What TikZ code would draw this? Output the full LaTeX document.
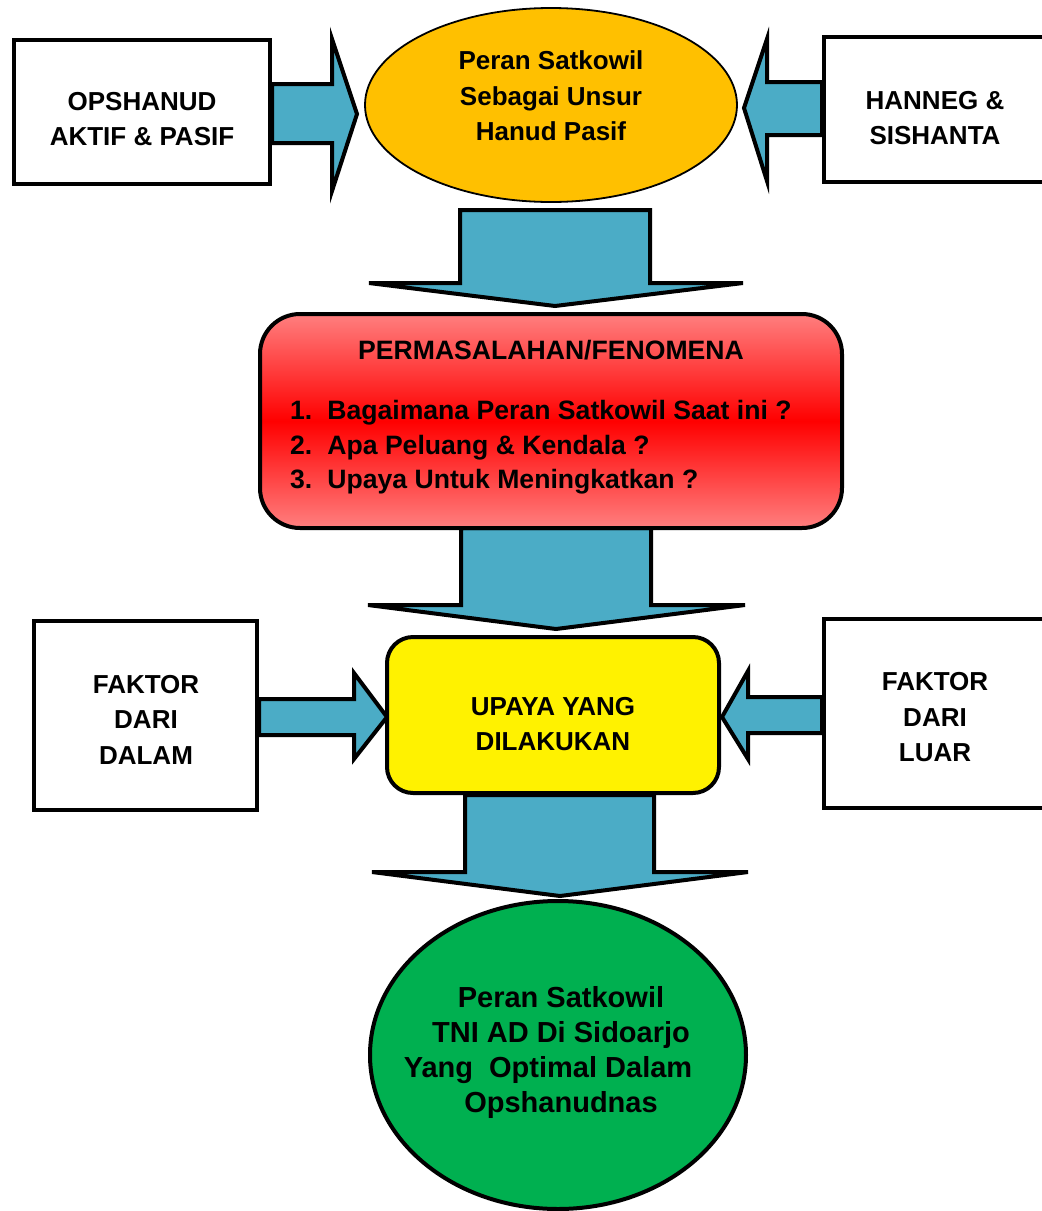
\documentclass[tikz,border=0pt]{standalone}
\usepackage{fontspec}
\setmainfont{Liberation Sans}
\usetikzlibrary{shapes.geometric}
\definecolor{arrowteal}{HTML}{4BACC6}
\definecolor{ellorange}{HTML}{FFC000}
\definecolor{ellgreen}{HTML}{00B050}
\definecolor{lightred}{HTML}{FF7F7F}
\begin{document}
\begin{tikzpicture}[x=1pt,y=-1pt,
  whitebox/.style={draw, line width=4pt, fill=white, minimum width=#1, inner sep=0pt},
  blockarrow/.style={draw, line width=4pt, fill=arrowteal, line join=miter},
  lbl/.style={font=\fontsize{26}{35.5}\selectfont\bfseries, align=center, inner sep=0pt},
  redlbl/.style={font=\fontsize{26.6}{35.5}\selectfont\bfseries, align=center, inner sep=0pt},
  biglbl/.style={font=\fontsize{29}{35}\selectfont\bfseries, align=center, inner sep=0pt}]
\useasboundingbox (0,0) rectangle (1042,1211);
\clip (0,0) rectangle (1042,1211);

% block arrows
\draw[blockarrow] (272,84) -- (332,84) -- (332,39) -- (357,114) -- (332,191) -- (332,143) -- (272,143) -- cycle;
\draw[blockarrow] (822,82) -- (767,82) -- (767,39) -- (744,108) -- (767,181) -- (767,135) -- (822,135) -- cycle;
\draw[blockarrow] (460,210) -- (650,210) -- (650,283) -- (743,283) -- (555,306) -- (369,283) -- (460,283) -- cycle;
\draw[blockarrow] (461,528) -- (651,528) -- (651,605) -- (745,605) -- (556,629) -- (368,605) -- (461,605) -- cycle;
\draw[blockarrow] (259,699) -- (354,699) -- (354,673) -- (387,717) -- (354,759) -- (354,735) -- (259,735) -- cycle;
\draw[blockarrow] (822,697) -- (748,697) -- (748,671) -- (722,717) -- (748,759) -- (748,733) -- (822,733) -- cycle;
\draw[blockarrow] (465,795) -- (654,795) -- (654,872) -- (748,872) -- (560,896) -- (372,872) -- (465,872) -- cycle;

% top row
\node[whitebox=256pt, minimum height=144pt] (opsh) at (142,112) {};
\node[lbl] (opshT) at (142,119) {OPSHANUD\\AKTIF \& PASIF};
\node[whitebox=236pt, minimum height=145pt] (hanneg) at (942,109.5) {};
\node[lbl] (hannegT) at (935,118) {HANNEG \&\\SISHANTA};
\node[ellipse, draw, line width=1.8pt, fill=ellorange, minimum width=372pt, minimum height=194pt, inner sep=0pt] (peran) at (551,105) {};
\node[lbl] (peranT) at (551,96) {Peran Satkowil\\Sebagai Unsur\\Hanud Pasif};

% problem box
\node[draw, line width=4pt, rounded corners=40pt, minimum width=582pt, minimum height=214pt, inner sep=0pt,
      top color=lightred, bottom color=lightred, middle color=red] (masalah) at (551,421) {};
\node[redlbl] (masalahT) at (551,350) {PERMASALAHAN/FENOMENA};
\node[redlbl, anchor=west, align=left] (listT) at (290,447) {%
  \begin{tabular}{@{}l@{\hspace{15pt}}l@{}}
  1. & Bagaimana Peran Satkowil Saat ini ?\\[-1pt]
  2. & Apa Peluang \& Kendala ?\\[-1pt]
  3. & Upaya Untuk Meningkatkan ?
  \end{tabular}};

% middle row
\node[whitebox=223pt, minimum height=189pt] (dalam) at (145.5,715.5) {};
\node[lbl] (dalamT) at (146,719.5) {FAKTOR\\DARI\\DALAM};
\node[whitebox=236pt, minimum height=189pt] (luar) at (942,713.5) {};
\node[lbl] (luarT) at (935,717.5) {FAKTOR\\DARI\\LUAR};
\node[draw, line width=4pt, rounded corners=26pt, fill=yellow, minimum width=332pt, minimum height=156pt, inner sep=0pt] (upaya) at (553,715) {};
\node[lbl] (upayaT) at (553,724) {UPAYA YANG\\DILAKUKAN};

% result ellipse
\node[ellipse, draw, line width=4pt, fill=ellgreen, minimum width=376pt, minimum height=308pt, inner sep=0pt] (hasil) at (558,1055) {};
\node[biglbl] (hasilT) at (561,1052) {Peran Satkowil\\TNI AD Di Sidoarjo\\Yang\ \ Optimal Dalam\hbox to 26pt{}\\Opshanudnas};
\end{tikzpicture}
\end{document}
